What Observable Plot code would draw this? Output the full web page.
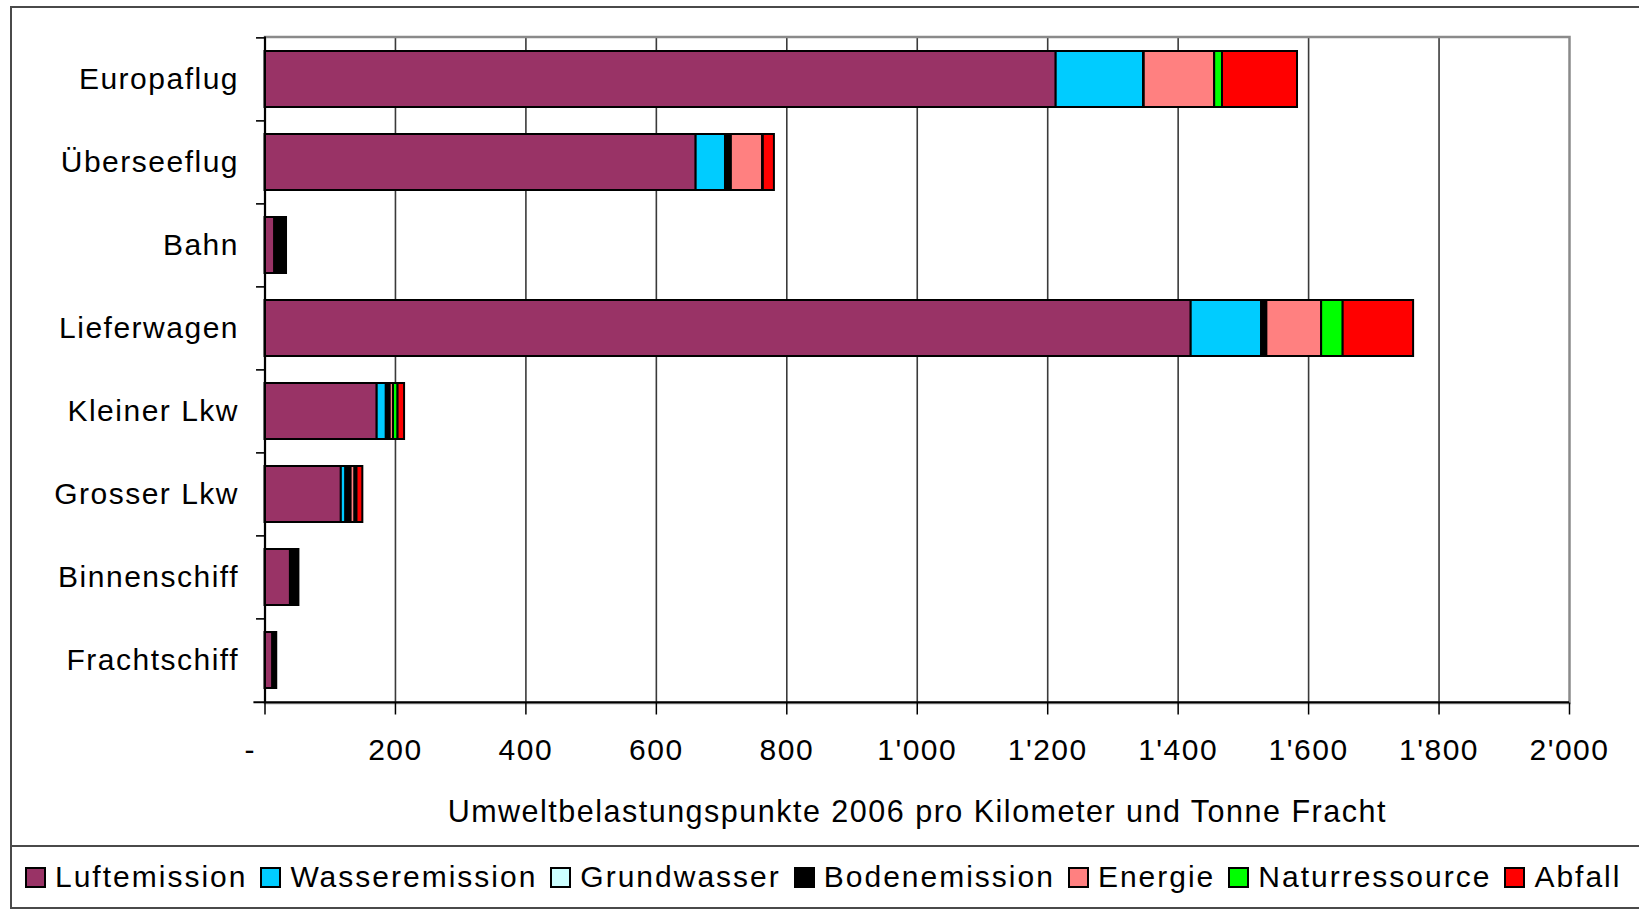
<!DOCTYPE html>
<html><head><meta charset="utf-8">
<script src="https://cdn.jsdelivr.net/npm/d3@7"></script>
<script src="https://cdn.jsdelivr.net/npm/@observablehq/plot@0.6"></script>
<style>
body{margin:0;background:#fff;width:1639px;height:914px;overflow:hidden;position:relative;font-family:"Liberation Sans",Arial,sans-serif;}
#chart{position:absolute;left:0;top:0;}
.fr{position:absolute;background:#4a4a4a;}
#legend{position:absolute;left:12px;top:847px;width:1627px;height:60px;display:flex;align-items:center;padding-left:13px;box-sizing:border-box;font-size:30px;letter-spacing:2px;color:#000;white-space:nowrap;}
.item{display:flex;align-items:center;margin-right:13px}
.sw{width:17px;height:17px;border:2px solid #000;margin-right:9px;flex:none}
</style></head><body>
<div id="chart"></div>
<div class="fr" style="left:10px;top:6px;width:2px;height:903px"></div>
<div class="fr" style="left:10px;top:6px;width:1629px;height:2px"></div>
<div class="fr" style="left:10px;top:845px;width:1629px;height:2px"></div>
<div class="fr" style="left:10px;top:907px;width:1629px;height:2px"></div>
<div id="legend"></div>
<script>
const categories = ["Europaflug","Überseeflug","Bahn","Lieferwagen","Kleiner Lkw","Grosser Lkw","Binnenschiff","Frachtschiff"];
const components = ["Luftemission","Wasseremission","Grundwasser","Bodenemission","Energie","Naturressource","Abfall"];
const colors = ["#993366","#00ccff","#ccffff","#000000","#ff8080","#00ff00","#ff0000"];
const luftemission   = [1213, 661, 15, 1420, 172, 117, 39, 12];
const wasseremission = [ 134,  45,  0,  108,  14,   7,  0,  0];
const grundwasser    = [   0,   0,  0,    0,   0,   1,  0,  0];
const bodenemission  = [   1,   9, 18,    8,   6,   7, 13,  6];
const energie        = [ 108,  48,  0,   84,   5,   6,  0,  0];
const naturressource = [  12,   1,  0,   33,   7,   3,  0,  0];
const abfall         = [ 115,  17,  0,  108,  10,   9,  0,  0];
const xTicks = [0,200,400,600,800,1000,1200,1400,1600,1800,2000];
const axisTitle = "Umweltbelastungspunkte 2006 pro Kilometer und Tonne Fracht";

(function () {
const series = [luftemission, wasseremission, grundwasser, bodenemission, energie, naturressource, abfall];
const rows = [];
components.forEach((c, j) => categories.forEach((cat, i) => {
  if (series[j][i] > 0) rows.push({cat, comp: c, value: series[j][i]});
}));

const W = 1639, H = 846, pTop = 36.5, pBottom = 702.5, pLeft = 264.5, pRight = 1569;
const step = (pBottom - pTop) / categories.length;
const fmt = d => d === 0 ? "-\u00A0\u00A0\u00A0" : d3.format(",")(d).replace(/,/g, "'");

const plot = Plot.plot({
  width: W, height: H,
  marginLeft: pLeft, marginRight: W - pRight, marginTop: pTop, marginBottom: H - pBottom,
  style: {fontFamily: "'Liberation Sans', Arial, sans-serif", fontSize: "30px", letterSpacing: "1.5px", color: "#000", background: "transparent", overflow: "visible"},
  x: {domain: [0, 2000]},
  y: {domain: categories, paddingInner: 0.33, paddingOuter: 0.165},
  color: {domain: components, range: colors},
  marks: [
    Plot.ruleX(xTicks.slice(1, -1), {stroke: "#3a3a3a", strokeWidth: 1.6}),
    Plot.frame({stroke: "#8a8a8a", strokeWidth: 2.5}),
    Plot.barX(rows, Plot.stackX({x: "value", y: "cat", fill: "comp", order: components, stroke: "#000", strokeWidth: 2})),
    Plot.ruleX([0], {stroke: "#000", strokeWidth: 2}),
    Plot.ruleY([categories[categories.length - 1]], {dy: step / 2, x1: -17, x2: 2000, stroke: "#000", strokeWidth: 2}),
    Plot.ruleY(categories, {dy: -step / 2, x1: -13, x2: 0, stroke: "#000", strokeWidth: 1.6}),
    Plot.axisX(xTicks, {tickSize: 12, tickPadding: 24, tickFormat: fmt, stroke: "#000", strokeWidth: 1.5, label: null, fontSize: 30}),
    Plot.text([axisTitle], {frameAnchor: "bottom", dy: 109, fontSize: 30.5, letterSpacing: 1.9, lineAnchor: "middle", text: d => d}),
    Plot.axisY({tickSize: 0, tickPadding: 26, fontSize: 30, label: null})
  ]
});
document.getElementById("chart").appendChild(plot);

const legend = document.getElementById("legend");
components.forEach((c, j) => {
  const it = document.createElement("div"); it.className = "item";
  const sw = document.createElement("span"); sw.className = "sw"; sw.style.background = colors[j];
  const tx = document.createElement("span"); tx.textContent = c;
  it.append(sw, tx); legend.append(it);
});
})();
</script>
</body></html>
